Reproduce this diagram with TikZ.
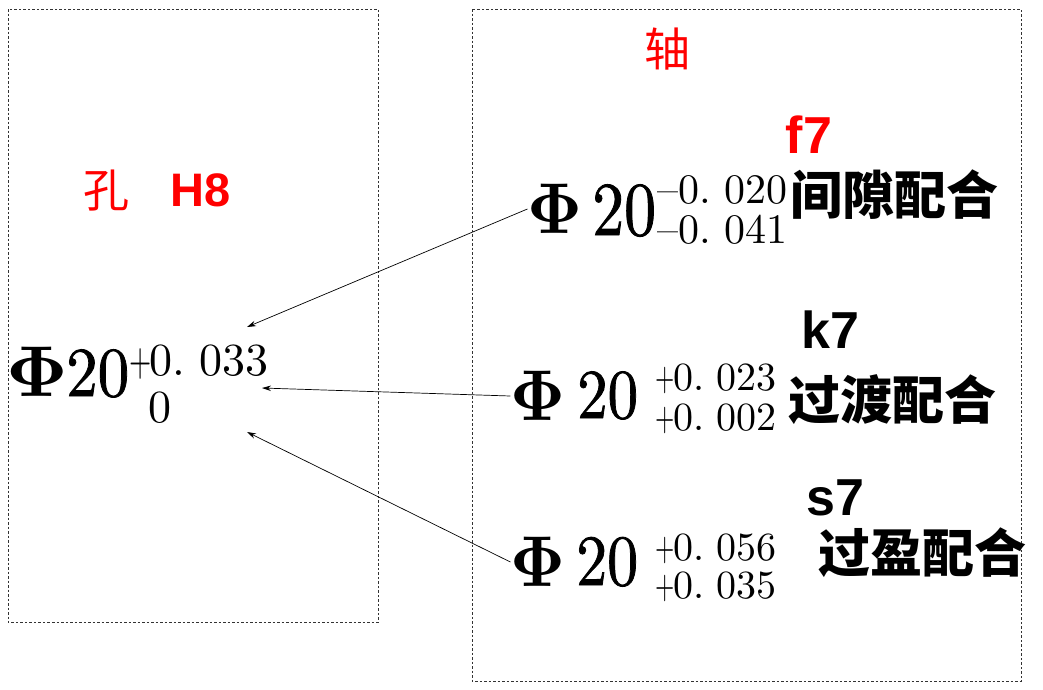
\documentclass[tikz,border=0pt]{standalone}
\usepackage[no-math]{fontspec}
\usetikzlibrary{arrows.meta}
\setmainfont{lmroman10-regular.otf}
\newfontfamily\bignum{lmroman10-regular.otf}[FakeBold=1.2]
\newfontfamily\cjk{Noto Sans CJK SC}
\newfontfamily\lsans{Liberation Sans}
\newcommand{\fs}[1]{\fontsize{#1}{#1}\selectfont}
\newcommand{\nar}[2]{\scalebox{#1}[1]{#2}}
\newcommand{\pl}{\scalebox{0.62}[1]{+}}
\newcommand{\bigphi}[1][6.6]{\scalebox{#1}[7.2]{\fontsize{10}{10}\selectfont$\mathbf{\Phi}$}}
\begin{document}
\begin{tikzpicture}[x=1pt,y=-1pt,
  dashbox/.style={draw=black!80,line width=0.6pt,dash pattern=on 2.5pt off 2pt},
  phi/.style={inner sep=0pt},
  big/.style={inner sep=0pt,anchor=base west},
  tol/.style={inner sep=0pt,anchor=base west,font=\fs{42},text height=0.66em,text depth=0pt},
  cn/.style={inner sep=0pt,font=\cjk\bfseries\fs{52}},
  lab/.style={inner sep=0pt,font=\lsans\bfseries\fs{52}},
  arr/.style={-{Stealth[length=9pt,width=5.5pt]},line width=0.7pt}]
\useasboundingbox (0,0) rectangle (1043,689);
% boxes
\draw[dashbox] (8,9) rectangle (378,622);
\draw[dashbox] (472,9) rectangle (1021,681);
% titles
\node[inner sep=0pt,text=red,font=\cjk\fs{46}] (zhou) at (667,49) {轴};
\node[inner sep=0pt,text=red,font=\cjk\fs{46}] (kong) at (106,191) {孔};
\node[inner sep=0pt,text=red,font=\lsans\bfseries\fs{47}] (h8) at (201,190) {H8};
% left hole
\node[phi] (phiL) at (37,372) {\bigphi[7.4]};
\node[big,font=\bignum\fs{70}] (twL) at (66,396) {\nar{0.9}{20}};
\node[tol,font=\fs{46}] (upL) at (129,375) {\pl\kern-2pt0.\kern14pt 033};
\node[tol,font=\fs{46}] (loL) at (148,422) {0};
% shaft f7
\node[lab,text=red] (f7) at (809,135) {f7};
\node[phi] (phiA) at (555,209) {\bigphi};
\node[big,font=\bignum\fs{76}] (twA) at (592,235) {\nar{0.84}{20}};
\node[tol] (upA) at (657,203) {\textendash0.\kern14pt 020};
\node[tol] (loA) at (657,243) {\textendash0.\kern14pt 041};
\node[cn] (cnA) at (894,195) {间隙配合};
% shaft k7
\node[lab] (k7) at (830,330) {k7};
\node[phi] (phiB) at (538,396) {\bigphi};
\node[big,font=\bignum\fs{70}] (twB) at (577,418) {\nar{0.87}{20}};
\node[tol,font=\fs{40}] (upB) at (655,390) {\pl\kern-1pt0.\kern12pt 023};
\node[tol,font=\fs{40}] (loB) at (655,430) {\pl\kern-1pt0.\kern12pt 002};
\node[cn] (cnB) at (892,400) {过渡配合};
% shaft s7
\node[lab] (s7) at (835,498) {s7};
\node[phi] (phiC) at (538,562) {\bigphi};
\node[big,font=\bignum\fs{72}] (twC) at (576,585) {\nar{0.86}{20}};
\node[tol,font=\fs{40}] (upC) at (655,560) {\pl\kern-1pt0.\kern12pt 056};
\node[tol,font=\fs{40}] (loC) at (655,598) {\pl\kern-1pt0.\kern12pt 035};
\node[cn] (cnC) at (922,553) {过盈配合};
% arrows
\coordinate (tA) at (247,327);
\coordinate (tB) at (262,388);
\coordinate (tC) at (247,432);
\draw[arr] (phiA.west) -- (tA);
\draw[arr] (phiB.west) -- (tB);
\draw[arr] (phiC.west) -- (tC);
\end{tikzpicture}
\end{document}
